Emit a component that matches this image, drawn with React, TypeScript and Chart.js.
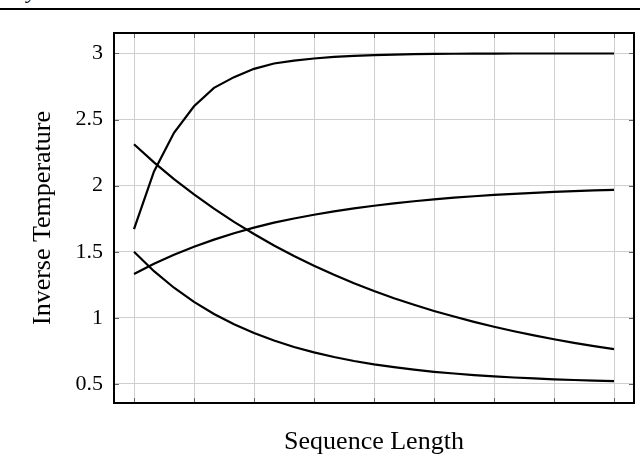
import React, { useEffect, useRef } from 'react';
import { Chart, registerables } from 'chart.js';

Chart.register(...registerables);

// ---- data ----
const seqLength = [0, 10, 20, 30, 40, 50, 60, 70, 80, 90, 100, 110, 120, 130, 140, 150, 160, 170, 180, 190, 200, 210, 220, 230, 240];
const seriesA = [1.672, 2.108, 2.4, 2.601, 2.74, 2.821, 2.884, 2.924, 2.946, 2.962, 2.974, 2.982, 2.988, 2.992, 2.995, 2.997, 2.998, 2.999, 2.999, 3.0, 3.0, 3.0, 3.0, 3.0, 3.0];
const seriesB = [2.313, 2.176, 2.05, 1.934, 1.826, 1.726, 1.634, 1.548, 1.468, 1.394, 1.326, 1.262, 1.203, 1.149, 1.099, 1.052, 1.01, 0.97, 0.933, 0.899, 0.867, 0.838, 0.811, 0.786, 0.764];
const seriesC = [1.332, 1.41, 1.478, 1.538, 1.592, 1.64, 1.683, 1.72, 1.752, 1.78, 1.805, 1.828, 1.848, 1.866, 1.882, 1.896, 1.909, 1.92, 1.93, 1.938, 1.946, 1.953, 1.959, 1.964, 1.968];
const seriesD = [1.5, 1.353, 1.228, 1.121, 1.029, 0.952, 0.885, 0.829, 0.78, 0.739, 0.704, 0.674, 0.648, 0.627, 0.608, 0.592, 0.579, 0.567, 0.557, 0.549, 0.542, 0.535, 0.53, 0.526, 0.522];
const xGridValues = [0, 30, 60, 90, 120, 150, 180, 210, 240];
const yTickValues = [0.5, 1, 1.5, 2, 2.5, 3];
const xTitle = 'Sequence Length';
const yTitle = 'Inverse Temperature';

const FONT = '"Liberation Serif", "Times New Roman", serif';

const framePlugin = {
  id: 'frame',
  beforeDatasetsDraw(chart: any) {
    const { ctx, chartArea: a, scales } = chart;
    const L = 5;
    ctx.save();
    ctx.strokeStyle = '#666';
    ctx.lineWidth = 1;
    ctx.beginPath();
    for (const v of xGridValues) {
      const px = Math.round(scales.x.getPixelForValue(v)) + 0.5;
      ctx.moveTo(px, a.top);
      ctx.lineTo(px, a.top + L);
      ctx.moveTo(px, a.bottom);
      ctx.lineTo(px, a.bottom - L);
    }
    for (const v of yTickValues) {
      const py = Math.round(scales.y.getPixelForValue(v)) + 0.5;
      ctx.moveTo(a.left, py);
      ctx.lineTo(a.left + L, py);
      ctx.moveTo(a.right, py);
      ctx.lineTo(a.right - L, py);
    }
    ctx.stroke();
    ctx.restore();
  },
  afterDraw(chart: any) {
    const { ctx, chartArea: a } = chart;
    ctx.save();
    ctx.strokeStyle = '#000';
    ctx.lineWidth = 2;
    ctx.strokeRect(a.left, a.top, a.right - a.left, a.bottom - a.top);
    ctx.restore();
  },
};

const toPoints = (ys: number[]) => seqLength.map((x, i) => ({ x, y: ys[i] }));

export default function App() {
  const ref = useRef<HTMLCanvasElement | null>(null);

  useEffect(() => {
    if (!ref.current) return;
    const mk = (data: number[]) => ({
      data: toPoints(data),
      borderColor: '#000',
      borderWidth: 2.2,
      pointRadius: 0,
      tension: 0,
      fill: false,
    });
    const chart = new Chart(ref.current, {
      type: 'line',
      data: {
        datasets: [mk(seriesA), mk(seriesB), mk(seriesC), mk(seriesD)],
      },
      plugins: [framePlugin],
      options: {
        responsive: false,
        animation: false,
        devicePixelRatio: 1,
        layout: { padding: { top: 33, right: 6, bottom: 0, left: 0 } },
        plugins: { legend: { display: false }, tooltip: { enabled: false } },
        scales: {
          x: {
            type: 'linear',
            min: -10,
            max: 250,
            afterBuildTicks: (s: any) => {
              s.ticks = xGridValues.map((v) => ({ value: v }));
            },
            ticks: { display: false },
            grid: { color: '#cfcfcf', lineWidth: 1, drawTicks: false },
            border: { display: false },
            title: {
              display: true,
              text: xTitle,
              color: '#000',
              font: { family: FONT, size: 26, lineHeight: 1 },
              padding: 0,
            },
            afterFit: (s: any) => {
              s.height = 52;
              s.paddingLeft = 0;
              s.paddingRight = 0;
            },
          },
          y: {
            type: 'linear',
            min: 0.356,
            max: 3.155,
            afterBuildTicks: (s: any) => {
              s.ticks = yTickValues.map((v) => ({ value: v }));
            },
            ticks: {
              padding: 11,
              color: '#000',
              font: { family: FONT, size: 22 },
              callback: (v: any) => String(v),
            },
            grid: { color: '#cfcfcf', lineWidth: 1, drawTicks: false },
            border: { display: false },
            title: {
              display: true,
              text: yTitle,
              color: '#000',
              font: { family: FONT, size: 26, lineHeight: 1 },
              padding: { top: 30, bottom: 0 },
            },
            afterFit: (s: any) => {
              s.width = 114;
              s.paddingTop = 0;
              s.paddingBottom = 0;
            },
          },
        },
      } as any,
    });
    return () => chart.destroy();
  }, []);

  return (
    <div style={{ position: 'absolute', left: 0, top: 0, width: 640, height: 455, overflow: 'hidden', background: '#fff' }}>
      <div
        style={{
          position: 'absolute',
          left: 27,
          top: -20,
          fontFamily: FONT,
          fontStyle: 'italic',
          fontSize: 22,
          lineHeight: '22px',
        }}
      >
        y
      </div>
      <div style={{ position: 'absolute', left: 0, top: 8, width: 640, height: 2, background: '#000' }} />
      <canvas ref={ref} width={640} height={455} style={{ position: 'absolute', left: 0, top: 0, display: 'block' }} />
    </div>
  );
}
